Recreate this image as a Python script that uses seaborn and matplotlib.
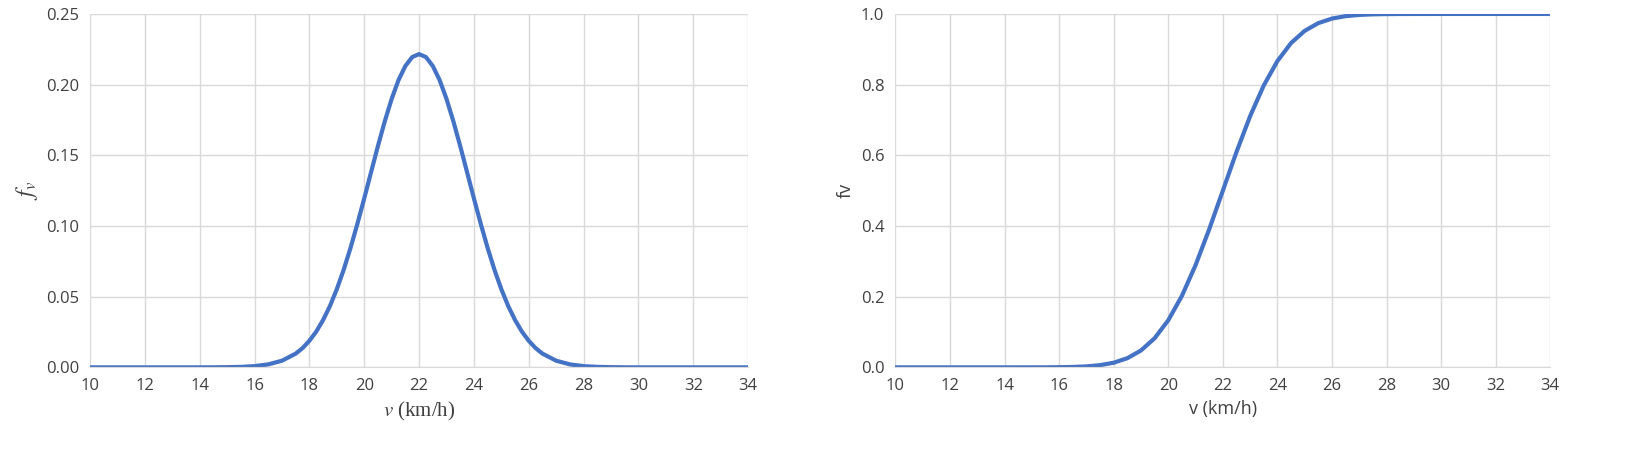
import matplotlib.pyplot as plt
import numpy as np
import seaborn as sns

# density (finer spacing around the peak)
pdf_x = list(np.arange(10, 17.51, 0.5)) + list(np.arange(17.75, 26.26, 0.25)) + list(np.arange(26.5, 34.01, 0.5))
pdf_tail_left = [0, 0, 0, 0, 0, 0, 0, 0, 0,
                 0.00004, 0.00012, 0.00033, 0.00086, 0.0021, 0.0047, 0.0097]
pdf_core_left = [0.0136, 0.0188, 0.0253, 0.0335, 0.0434, 0.0553, 0.0690, 0.0845,
                 0.1015, 0.1195, 0.1381, 0.1566, 0.1741, 0.1899, 0.2032, 0.2132, 0.2195]
pdf_peak = [0.2216]
pdf_core_right = [0.2195, 0.2132, 0.2032, 0.1899, 0.1741, 0.1566, 0.1381, 0.1195,
                  0.1015, 0.0845, 0.0690, 0.0553, 0.0434, 0.0335, 0.0253, 0.0188, 0.0136]
pdf_tail_right = [0.0097, 0.0047, 0.0021, 0.00086, 0.00033, 0.00012, 0.00004,
                  0, 0, 0, 0, 0, 0, 0, 0, 0]
pdf_vals = pdf_tail_left + pdf_core_left + pdf_peak + pdf_core_right + pdf_tail_right

# cumulative values
cdf_x = np.arange(10, 34.01, 0.5)
cdf_vals = [0, 0, 0, 0, 0, 0, 0, 0, 0,
            0.00002, 0.00005, 0.00015, 0.0004, 0.0011, 0.0027, 0.0062, 0.0131,
            0.0259, 0.0478, 0.0824, 0.1333, 0.2023, 0.2892, 0.3906, 0.5,
            0.6094, 0.7108, 0.7977, 0.8667, 0.9176, 0.9522, 0.9741, 0.9869,
            0.9938, 0.9973, 0.9989, 0.9996, 0.99985, 0.99995, 0.99998,
            1, 1, 1, 1, 1, 1, 1, 1, 1]

x_ticks = list(range(10, 35, 2))
line_color = "#4472C4"
grid_color = "#d9d9d9"

sns.set_style("white")
plt.rcParams["font.family"] = ["Open Sans", "DejaVu Sans"]
plt.rcParams["mathtext.fontset"] = "stix"

fig = plt.figure(figsize=(16.37, 4.65), dpi=100)
ax1 = fig.add_axes([0.055, 0.21, 0.402, 0.76])
ax2 = fig.add_axes([0.547, 0.21, 0.400, 0.76])

for ax, x, y, ymax, step, fmt in [(ax1, pdf_x, pdf_vals, 0.25, 0.05, "{:.2f}"),
                                   (ax2, cdf_x, cdf_vals, 1.0, 0.2, "{:.1f}")]:
    sns.lineplot(x=x, y=y, ax=ax, color=line_color, linewidth=3)
    ax.set_xlim(10, 34)
    ax.set_ylim(0, ymax)
    ax.set_xticks(x_ticks)
    yt = np.arange(0, ymax + 1e-9, step)
    ax.set_yticks(yt)
    ax.set_yticklabels([fmt.format(v) for v in yt])
    ax.grid(True, color=grid_color, linewidth=1)
    for s in ["top", "right", "left"]:
        ax.spines[s].set_visible(False)
    ax.spines["bottom"].set_color(grid_color)
    ax.tick_params(length=0, labelsize=12, colors="#404040", pad=8)

ax1.set_xlabel("$v$ (km/h)", fontsize=15, family="Liberation Serif", color="#404040")
ax1.set_ylabel("$f_v$", fontsize=17, color="#404040")
ax2.set_xlabel("v (km/h)", fontsize=13, color="#404040")
ax2.set_ylabel("fv", fontsize=13, color="#404040")

fig.savefig("out.png", dpi=100)
